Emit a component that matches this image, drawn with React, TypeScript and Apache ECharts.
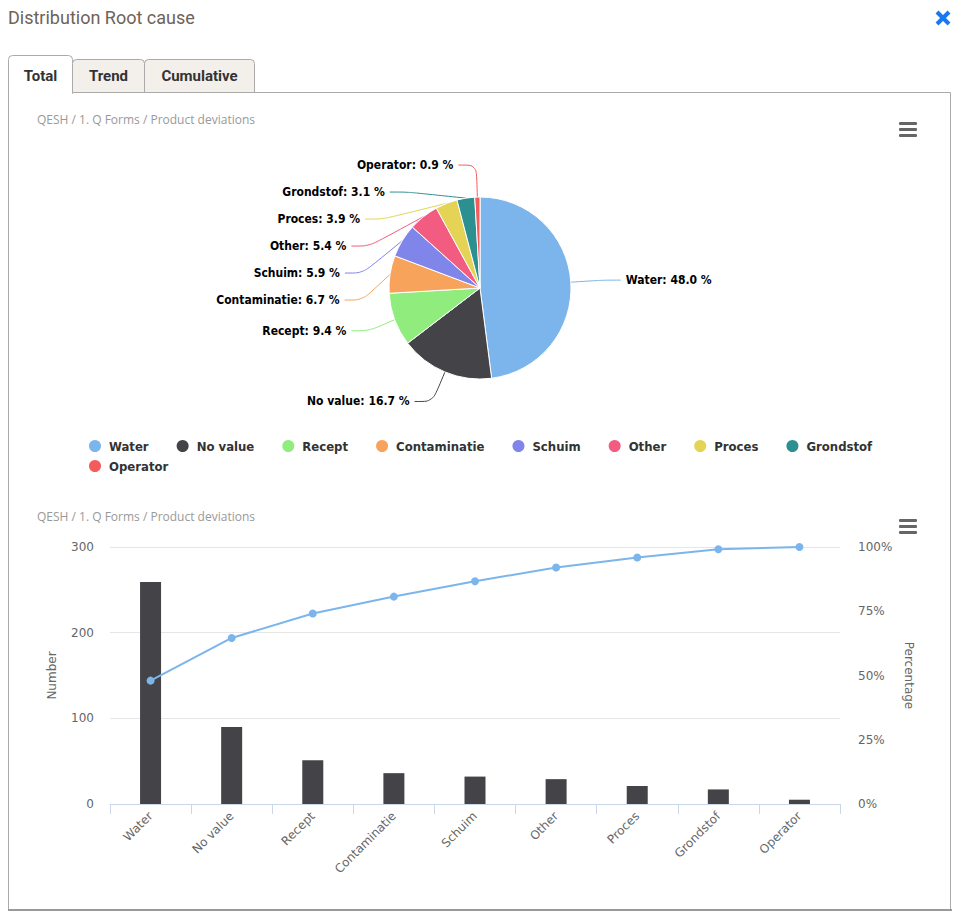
import React, { useEffect, useRef } from "react";
import * as echarts from "echarts";

const categories = ["Water", "No value", "Recept", "Contaminatie", "Schuim", "Other", "Proces", "Grondstof", "Operator"];
const counts = [259, 90, 51, 36, 32, 29, 21, 17, 5];
const cumulativePct = [48.0, 64.6, 74.1, 80.7, 86.7, 92.0, 95.9, 99.1, 100];
const sliceColors = ["#7cb5ec", "#434348", "#90ed7d", "#f7a35c", "#8085e9", "#f15c80", "#e4d354", "#2b908f", "#f45b5b"];
const tabs = ["Total", "Trend", "Cumulative"];
const breadcrumb = "QESH / 1. Q Forms / Product deviations";

export default function App() {
  const ref = useRef<HTMLDivElement>(null);
  useEffect(() => {
    document.body.style.margin = "0";
    const chart = echarts.init(ref.current!, null, { renderer: "svg" });
    const total = counts.reduce((a, b) => a + b, 0);
    const hamburger = (y: number) => ({
      type: "group",
      children: [0, 6, 12].map((d) => ({
        type: "rect",
        shape: { x: 899, y: y + d, width: 18, height: 3, r: 1 },
        style: { fill: "#666" },
      })),
    });
    const tabX = [8, 72, 144, 254];
    const graphic: any[] = [
      { type: "text", x: 8, y: 8, style: { text: "Distribution Root cause", fill: "#6f6257", font: "18px Roboto" } },
      { type: "line", shape: { x1: 937, y1: 12, x2: 949, y2: 24 }, style: { stroke: "#1877f2", lineWidth: 4 } },
      { type: "line", shape: { x1: 949, y1: 12, x2: 937, y2: 24 }, style: { stroke: "#1877f2", lineWidth: 4 } },
      { type: "rect", shape: { x: 8.5, y: 92.5, width: 942, height: 817 }, style: { fill: "#fff", stroke: "#aaa", lineWidth: 1 } },
      { type: "line", shape: { x1: 8, y1: 910, x2: 952, y2: 910 }, style: { stroke: "#999", lineWidth: 2 } },
    ];
    tabs.forEach((t, i) => {
      const active = i === 0;
      graphic.push({
        type: "rect",
        shape: { x: tabX[i] + 0.5, y: active ? 55.5 : 59.5, width: tabX[i + 1] - tabX[i], height: active ? 38 : 33, r: [4, 4, 0, 0] },
        style: { fill: active ? "#fff" : "#f3efeb", stroke: "#aaa", lineWidth: 1 },
      });
      graphic.push({
        type: "text",
        x: (tabX[i] + tabX[i + 1]) / 2 + 0.5,
        y: 76,
        style: { text: t, fill: "#333", font: "bold 15px Roboto", align: "center", verticalAlign: "middle" },
      });
    });
    graphic.push({ type: "rect", shape: { x: 9, y: 91, width: 63, height: 3 }, style: { fill: "#fff" } });
    graphic.push({ type: "text", x: 37, y: 119, style: { text: breadcrumb, fill: "#999", font: "12px 'Open Sans'", verticalAlign: "middle" } });
    graphic.push({ type: "text", x: 37, y: 516, style: { text: breadcrumb, fill: "#999", font: "12px 'Open Sans'", verticalAlign: "middle" } });
    graphic.push(hamburger(122));
    graphic.push(hamburger(519));

    const axisFont = { color: "#666", fontSize: 12, fontFamily: "'DejaVu Sans'" };
    const legendBase = {
      left: 82,
      itemGap: 26,
      itemWidth: 14,
      itemHeight: 14,
      icon: "circle",
      textStyle: { color: "#333", fontSize: 13, fontWeight: "bold", fontFamily: "'DejaVu Sans Condensed'", padding: [0, 0, 0, 2] },
    };
    chart.setOption({
      animation: false,
      color: sliceColors,
      graphic,
      legend: [
        { ...legendBase, top: 433, data: categories.slice(0, 8) },
        { ...legendBase, top: 453, data: categories.slice(8) },
      ],
      grid: { left: 110, right: 120, top: 547, bottom: 119 },
      xAxis: {
        type: "category",
        data: categories,
        axisLine: { lineStyle: { color: "#ccd6eb" } },
        axisTick: { show: true, length: 10, lineStyle: { color: "#ccd6eb" } },
        axisLabel: { rotate: 45, color: "#666", fontSize: 12, fontFamily: "'DejaVu Sans'", margin: 10 },
      },
      yAxis: [
        {
          type: "value",
          min: 0,
          max: 300,
          interval: 100,
          name: "Number",
          nameLocation: "middle",
          nameGap: 52,
          nameTextStyle: { color: "#666", fontSize: 12, fontFamily: "'DejaVu Sans'" },
          axisLabel: { ...axisFont, margin: 16 },
          splitLine: { lineStyle: { color: "#e6e6e6" } },
        },
        {
          type: "value",
          min: 0,
          max: 100,
          interval: 25,
          name: "Percentage",
          nameLocation: "middle",
          nameGap: 57,
          nameRotate: -90,
          nameTextStyle: { color: "#666", fontSize: 12, fontFamily: "'DejaVu Sans'" },
          axisLabel: { ...axisFont, margin: 18, formatter: "{value}%" },
          splitLine: { show: false },
        },
      ],
      series: [
        {
          type: "pie",
          center: [480, 288],
          radius: 91,
          startAngle: 90,
          clockwise: true,
          itemStyle: { borderColor: "#fff", borderWidth: 1 },
          label: {
            formatter: (p: any) => `${p.name}: ${((p.value / total) * 100).toFixed(1)} %`,
            color: "#000",
            fontSize: 12,
            fontWeight: "bold",
            fontFamily: "'DejaVu Sans Condensed'",
            lineHeight: 25,
          },
          labelLine: { length: 32, length2: 18, smooth: 0.3, lineStyle: { width: 1 } },
          emphasis: { disabled: true },
          data: categories.map((c, i) => ({ name: c, value: counts[i] })),
        },
        {
          type: "bar",
          xAxisIndex: 0,
          yAxisIndex: 0,
          barWidth: 21,
          itemStyle: { color: "#434348" },
          data: counts,
        },
        {
          type: "line",
          yAxisIndex: 1,
          symbol: "circle",
          symbolSize: 8,
          lineStyle: { color: "#7cb5ec", width: 2 },
          itemStyle: { color: "#7cb5ec" },
          data: cumulativePct,
        },
      ],
    });
    return () => chart.dispose();
  }, []);
  return <div ref={ref} style={{ width: 960, height: 923 }} />;
}
